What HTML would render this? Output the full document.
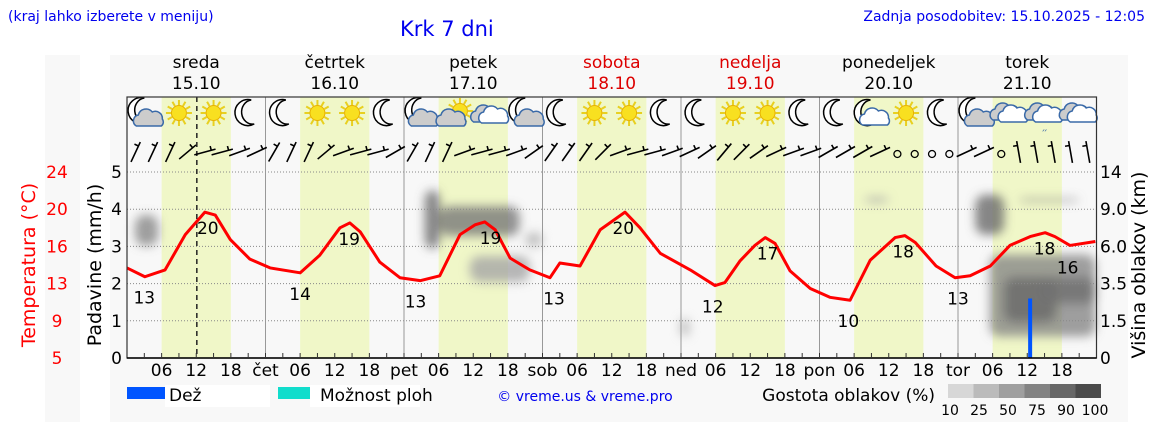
<!DOCTYPE html>
<html><head><meta charset="utf-8"><style>
body{margin:0;background:#fff;width:1152px;height:443px;overflow:hidden;font-family:"Liberation Sans","DejaVu Sans",sans-serif}
svg{display:block}
text{font-family:"DejaVu Sans","Liberation Sans",sans-serif}
</style></head><body>
<svg id="chart" width="1152" height="443" viewBox="0 0 1152 443">
<defs><filter id="blur" x="-50%" y="-50%" width="200%" height="200%"><feGaussianBlur stdDeviation="5"/></filter></defs>
<rect x="45" y="55" width="35" height="367" fill="#f8f8f8"/>
<rect x="110" y="55" width="1018" height="367" fill="#f8f8f8"/>
<text x="8" y="21" font-size="14" fill="#0000ee">(kraj lahko izberete v meniju)</text>
<text x="400" y="36" font-size="21" fill="#0000ee">Krk 7 dni</text>
<text x="1145" y="21" font-size="14" fill="#0000ee" text-anchor="end">Zadnja posodobitev: 15.10.2025 - 12:05</text>
<g id="bands"></g><g id="clouds" filter="url(#blur)"></g><g id="grid"></g><g id="icons"></g><g id="wind"></g><g id="marks"></g><g id="axes"></g>
<text transform="translate(35,265) rotate(-90)" font-size="19" fill="#ff0000" text-anchor="middle">Temperatura (°C)</text>
<text transform="translate(101,265) rotate(-90)" font-size="19" fill="#000" text-anchor="middle">Padavine (mm/h)</text>
<text transform="translate(1145,265) rotate(-90)" font-size="19" fill="#000" text-anchor="middle">Višina oblakov (km)</text>
<g>
<rect x="127" y="387" width="48" height="12" fill="#0055ff"/>
<rect x="165" y="385" width="105" height="22" fill="#fff"/>
<text x="169" y="401" font-size="17">Dež</text>
<rect x="278" y="387" width="32" height="12" fill="#11ddcc"/>
<rect x="310" y="385" width="110" height="22" fill="#fff"/>
<text x="320" y="401" font-size="17">Možnost ploh</text>
<text x="585" y="401" font-size="14" fill="#0000ee" text-anchor="middle">© vreme.us &amp; vreme.pro</text>
<text x="935" y="401" font-size="17" text-anchor="end">Gostota oblakov (%)</text>
<g id="dens"></g>
</g>
</svg>
<script>
const NS="http://www.w3.org/2000/svg";
const tempHours=[0,3.1,6.6,10.1,13.5,15.3,17.9,21.3,24.8,30,33.4,36.9,38.6,40.4,43.8,47.3,50.8,54.2,57.7,60.3,62,63.8,66.4,69.8,73.3,75,78.5,82,86.3,88.9,92.4,97.6,101.9,103.6,106.2,108.8,110.6,112.3,114.9,118.4,121.8,125.3,128.8,133.1,134.8,136.6,140.2,143.5,146.1,149.6,153,156.5,159.1,160.8,163.4,167.8];
const tempValues=[14.2,13.3,14.0,17.6,19.9,19.6,17.1,15.1,14.2,13.7,15.5,18.3,18.8,17.9,14.8,13.2,12.9,13.4,17.6,18.6,18.9,18.1,15.2,14.0,13.2,14.7,14.4,18.1,19.9,18.3,15.7,14.0,12.4,12.7,14.9,16.5,17.3,16.7,13.9,12.1,11.2,10.9,15.0,17.3,17.5,16.8,14.4,13.2,13.4,14.4,16.5,17.4,17.8,17.4,16.5,16.9];
const labelHours=[3,14,30,38.5,50,63,74,86,101.5,111,125,134.5,144,159,163];
const labelValues=["13","20","14","19","13","19","13","20","12","17","10","18","13","18","16"];
const labelTemps=[13.3,19.9,13.7,18.8,12.9,18.9,13.2,19.9,12.4,17.3,10.9,17.5,13.2,17.8,16.5];
const labelAbove=[0,0,0,0,0,0,0,0,0,0,0,0,0,0,1];
const precipHours=[156.5];
const precipValues=[1.6];
// clouds: [hourStart, hourEnd, kmLow, kmHigh, density%]
const cloudH0=[1.4,51.6,54.2,59.4,69,127.8,95.8,147,149.5,152,154.6,158];
const cloudH1=[5.4,54.2,68,69.8,72,132,97.5,152,167.8,161,165,167.8];
const cloudK0=[6.1,5.9,6.9,3.7,6.0,10.0,0.9,7.0,0.9,1.5,10.1,2.5];
const cloudK1=[8.6,11.6,9.5,5.4,7.2,10.7,1.7,11,5.5,4.0,10.5,4.0];
const cloudD=[60,80,70,40,30,40,30,80,60,80,60,75];
const dayNames=["sreda","četrtek","petek","sobota","nedelja","ponedeljek","torek"];
const dayDates=["15.10","16.10","17.10","18.10","19.10","20.10","21.10"];
const dayAbbr=["čet","pet","sob","ned","pon","tor"];
const tempTicks=[24,20,16,13,9,5];
const precipTicks=[0,1,2,3,4,5];
const cloudTicks=["14","9.0","6.0","3.5","1.5","0"];
const iconTypes=["mc","s","s","m","m","s","s","m","cm","sc","cs","mc","m","s","s","m","m","s","s","m","m","pc","s","m","mc","c","cr","c"];
const windAngles=[65,65,65,40,15,15,20,25,60,65,65,40,20,15,15,30,60,65,65,20,15,15,20,35,55,55,55,45,20,15,15,20,25,35,50,45,35,25,20,20,30,30,30,25,-1,-1,-1,-1,25,25,-1,100,100,100,100,100];
const densLabels=["10","25","50","75","90","100"];

const X0=127,DW=138.5,PB=358,PT=172;
const x=h=>X0+h*DW/24;
const yP=v=>PB-v*(PB-PT)/5;
const yT=t=>PB-(t-5)*(PB-PT)/19;
const kmK=[0,1.5,3.5,6,9,14],kmY=[358,322,285,247,210,172];
function yK(k){for(let i=0;i<5;i++){if(k<=kmK[i+1]){return kmY[i]+(k-kmK[i])/(kmK[i+1]-kmK[i])*(kmY[i+1]-kmY[i]);}}return 172;}
function el(parent,tag,attrs,txt){const e=document.createElementNS(NS,tag);for(const k in attrs)e.setAttribute(k,attrs[k]);if(txt!==undefined)e.textContent=txt;document.getElementById(parent).appendChild(e);return e;}

let bg=el("bands","rect",{x:X0,y:97,width:7*DW,height:PB-97,fill:"#f8f8f8"});


for(let d=0;d<7;d++){
 const b=el("bands","rect",{x:x(d*24+6),y:97,width:x(18)-x(6),height:PB-97,fill:"#f0f7c8"});
 
 
 const n=el("axes","text",{x:x(d*24+12),y:68,"font-size":17,"text-anchor":"middle",fill:(d==3||d==4)?"#dd0000":"#000"},dayNames[d]);
 
 
 const dt=el("axes","text",{x:x(d*24+12),y:89,"font-size":17,"text-anchor":"middle",fill:(d==3||d==4)?"#dd0000":"#000"},dayDates[d]);
 
 
}
for(let i=0;i<cloudH0.length;i++){
 const g=Math.round(225-cloudD[i]*1.5);
 const r=el("clouds","rect",{x:x(cloudH0[i]),y:yK(cloudK1[i]),width:x(cloudH1[i])-x(cloudH0[i]),height:yK(cloudK0[i])-yK(cloudK1[i]),rx:10,fill:`rgb(${g},${g},${g})`,opacity:0.8});
 
 
}
for(let v=1;v<=5;v++){const l=el("grid","line",{x1:X0,x2:X0+7*DW,y1:yP(v),y2:yP(v),stroke:"#888","stroke-dasharray":"1,2","stroke-width":1});}
for(let d=1;d<7;d++){const l=el("grid","line",{x1:x(d*24),x2:x(d*24),y1:97,y2:PB,stroke:"#999","stroke-width":1});}
const nowL=el("grid","line",{x1:x(12.1),x2:x(12.1),y1:97,y2:PB,stroke:"#222","stroke-dasharray":"5,4","stroke-width":1.5});


function moon(g,cx,cy){el(g,"path",{d:`M${cx+3},${cy-13} A13,13 0 1,0 ${cx+6},${cy+11} A11,12 0 1,1 ${cx+3},${cy-13}Z`,fill:"#fff",stroke:"#000","stroke-width":1.5});}
function sun(g,cx,cy){for(let a=0;a<12;a++){const t=a*Math.PI/6;el(g,"line",{x1:cx+8*Math.cos(t),y1:cy+8*Math.sin(t),x2:cx+13*Math.cos(t),y2:cy+13*Math.sin(t),stroke:"#e8d020","stroke-width":2});}el(g,"circle",{cx:cx,cy:cy,r:7.5,fill:"#f8e020",stroke:"#e8b000"});}
function cloud(g,cx,cy,fill){el(g,"path",{d:`M${cx-13},${cy+7} a6,6 0 0,1 2,-11 a8,8 0 0,1 14,-3 a7,7 0 0,1 10,7 a5,5 0 0,1 -1,7 Z`,fill:fill,stroke:"#3a6aa8","stroke-width":1.5});}
iconTypes.forEach((t,i)=>{
 const cx=x(i*6+3),cy=113;
 const g=el("icons","g",{});
 
 
 g.id="ic"+i;
 if(t=="m")moon(g.id,cx,cy);
 if(t=="s")sun(g.id,cx,cy);
 if(t=="mc"){moon(g.id,cx-3,cy-2);cloud(g.id,cx+5,cy+6,"#ccc");}
 if(t=="cm"){moon(g.id,cx-3,cy-2);cloud(g.id,cx+3,cy+6,"#ccc");}
 if(t=="sc"){sun(g.id,cx+4,cy-2);cloud(g.id,cx-4,cy+6,"#ccc");}
 if(t=="cs"){cloud(g.id,cx-4,cy+2,"#ccc");cloud(g.id,cx+4,cy+3,"#fff");}
 if(t=="pc"){moon(g.id,cx-4,cy);cloud(g.id,cx+4,cy+5,"#fff");}
 if(t=="c"){cloud(g.id,cx-4,cy,"#ccc");cloud(g.id,cx+4,cy+2,"#fff");}
 if(t=="cr"){cloud(g.id,cx-4,cy,"#ccc");cloud(g.id,cx+4,cy+2,"#fff");el(g.id,"text",{x:cx,y:cy+22,"font-size":10,fill:"#3a6aa8","text-anchor":"middle"},"״");}
});
windAngles.forEach((a,i)=>{
 const cx=x(i*3+1.5),cy=152;
 if(a<0){const c=el("wind","circle",{cx:cx,cy:cy+2,r:3.5,fill:"none",stroke:"#000","stroke-width":1.3});return;}
 const t=a*Math.PI/180,L=11;
 const dx=L*Math.cos(t),dy=L*Math.sin(t);
 const l=el("wind","path",{d:`M${cx-dx},${cy+dy} L${cx+dx},${cy-dy} M${cx+dx*0.6},${cy-dy*0.6} l${-dy*0.4},${-dx*0.4}`,stroke:"#000","stroke-width":1.6,fill:"none"});
 
 
});
precipHours.forEach((h,i)=>{const r=el("marks","rect",{x:x(h)-2,y:yP(precipValues[i]),width:4,height:PB-yP(precipValues[i]),fill:"#0055ff"});});
const pl=el("marks","polyline",{points:tempHours.map((h,i)=>x(h)+","+yT(tempValues[i])).join(" "),fill:"none",stroke:"#ff0000","stroke-width":3,"stroke-linejoin":"round"});


labelHours.forEach((h,i)=>{const t=el("marks","text",{x:x(h),y:labelAbove[i]?yT(labelTemps[i])+28:(labelTemps[i]>16?yT(labelTemps[i])+22:yT(labelTemps[i])+27),"font-size":17,"text-anchor":"middle"},labelValues[i]);});
const box=el("axes","rect",{x:X0,y:97,width:7*DW,height:PB-97,fill:"none",stroke:"#333","stroke-width":1.2});


el("axes","line",{x1:X0,x2:X0+7*DW,y1:PB,y2:PB,stroke:"#000","stroke-width":1.5});
for(let h=3;h<168;h+=3){const tk=el("axes","line",{x1:x(h),x2:x(h),y1:PB,y2:PB-5,stroke:"#333"});}
for(let d=0;d<7;d++){[6,12,18].forEach(hh=>{const t=el("axes","text",{x:x(d*24+hh),y:376,"font-size":17,"text-anchor":"middle"},String(hh).padStart(2,"0"));});
 if(d>0){const t=el("axes","text",{x:x(d*24),y:376,"font-size":17,"text-anchor":"middle"},dayAbbr[d-1]);}}
tempTicks.forEach((t,i)=>{const e=el("axes","text",{x:57,y:178+i*37.2,"font-size":17,"text-anchor":"middle",fill:"#ff0000"},String(t));});
precipTicks.forEach(v=>{const e=el("axes","text",{x:122,y:yP(v)+6,"font-size":17,"text-anchor":"end"},String(v));});
cloudTicks.forEach((v,i)=>{const e=el("axes","text",{x:1100,y:178+i*37.2,"font-size":17},v);});
densLabels.forEach((v,i)=>{const g=Math.round(215-i*28);const r=el("dens","rect",{x:948+i*25.5,y:384,width:25.5,height:14,fill:`rgb(${g},${g},${g})`});
 const t=el("dens","text",{x:950+i*29,y:415,"font-size":14,"text-anchor":"middle"},v);});
</script>
</body></html>
